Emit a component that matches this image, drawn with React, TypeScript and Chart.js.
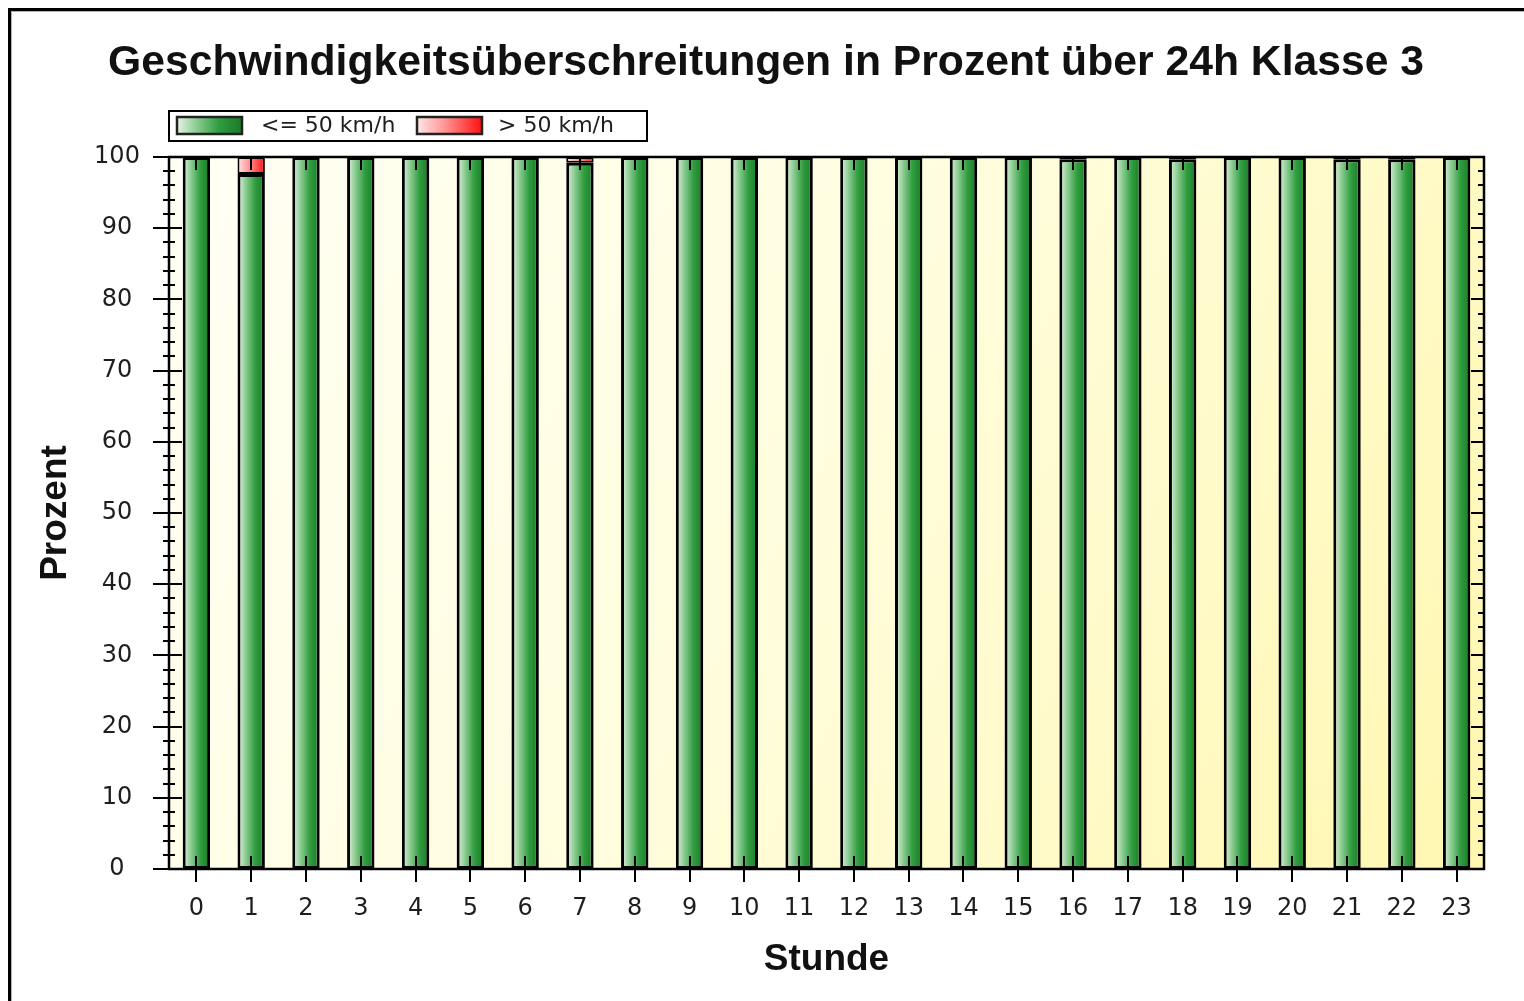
import React, { useEffect, useRef } from "react";
import { Chart, registerables } from "chart.js";

Chart.register(...registerables);

const hours = ["0","1","2","3","4","5","6","7","8","9","10","11","12","13","14","15","16","17","18","19","20","21","22","23"];
const underLimit = [100, 97.6, 100, 100, 100, 100, 100, 99.2, 100, 100, 100, 100, 100, 100, 100, 100, 99.7, 100, 99.7, 100, 100, 99.7, 99.7, 100];
const overLimit = [0, 2.4, 0, 0, 0, 0, 0, 0.8, 0, 0, 0, 0, 0, 0, 0, 0, 0.3, 0, 0.3, 0, 0, 0.3, 0.3, 0];
const seriesNames = ["<= 50 km/h", "> 50 km/h"];
const yTicks = [0, 10, 20, 30, 40, 50, 60, 70, 80, 90, 100];
const titleText = "Geschwindigkeitsüberschreitungen in Prozent über 24h Klasse 3";
const xTitle = "Stunde";
const yTitle = "Prozent";

const greenStops: [number, string][] = [[0, "#e6f3e6"], [0.3, "#8ccc92"], [0.65, "#2f9c3e"], [1, "#1a7a28"]];
const redStops: [number, string][] = [[0, "#ffe6e6"], [0.4, "#ff9a9a"], [1, "#ff1010"]];

function barGradient(stops: [number, string][]) {
  return (c: any) => {
    const chart = c.chart;
    const { ctx, chartArea, scales } = chart;
    if (!chartArea || c.dataIndex === undefined || !scales.x) return stops[stops.length - 1][1];
    const x = scales.x.getPixelForValue(c.dataIndex);
    const w = (chartArea.width / hours.length) * 0.5;
    const g = ctx.createLinearGradient(x - w / 2, 0, x + w / 2, 0);
    stops.forEach(([p, col]) => g.addColorStop(p, col));
    return g;
  };
}

const LABEL_FONT = '24px "DejaVu Sans"';
const BOLD_FONT = 'bold 37px "Liberation Sans"';
const TITLE_FONT = 'bold 43px "Liberation Sans"';

const decor = {
  id: "decor",
  beforeDraw(chart: any) {
    const { ctx, chartArea: a, width, height } = chart;
    ctx.save();
    ctx.fillStyle = "#ffffff";
    ctx.fillRect(0, 0, width, height);
    // outer frame
    ctx.strokeStyle = "#000";
    ctx.lineWidth = 3;
    ctx.beginPath();
    ctx.moveTo(9.5, height + 5);
    ctx.lineTo(9.5, 9.5);
    ctx.lineTo(width + 5, 9.5);
    ctx.stroke();
    ctx.strokeStyle = "#b0b0b0";
    ctx.lineWidth = 1;
    ctx.beginPath();
    ctx.moveTo(11.5, height + 5);
    ctx.lineTo(11.5, 11.5);
    ctx.lineTo(width + 5, 11.5);
    ctx.stroke();
    // plot background
    const g = ctx.createLinearGradient(a.left, a.top, a.right, a.bottom);
    g.addColorStop(0, "#fffff4");
    g.addColorStop(0.5, "#fffddc");
    g.addColorStop(1, "#fff7b0");
    ctx.fillStyle = g;
    ctx.fillRect(a.left, a.top, a.right - a.left, a.bottom - a.top);
    ctx.restore();
  },
  afterDatasetsDraw(chart: any) {
    const { ctx, chartArea: a, scales } = chart;
    const xs = scales.x;
    const ys = scales.y;
    ctx.save();
    ctx.strokeStyle = "#000";
    ctx.lineWidth = 2.5;
    ctx.lineCap = "butt";
    // frame
    ctx.strokeRect(a.left, a.top, a.right - a.left, a.bottom - a.top);
    // y ticks
    ctx.lineWidth = 2;
    ctx.beginPath();
    for (let v = 0; v <= 100; v += 2) {
      const y = Math.round(ys.getPixelForValue(v));
      const major = v % 10 === 0;
      if (major) {
        ctx.moveTo(a.left - 16, y);
        ctx.lineTo(a.left + 13, y);
        ctx.moveTo(a.right - 13, y);
        ctx.lineTo(a.right, y);
      } else {
        ctx.moveTo(a.left - 6, y);
        ctx.lineTo(a.left + 6, y);
        ctx.moveTo(a.right - 6, y);
        ctx.lineTo(a.right, y);
      }
    }
    // x ticks
    hours.forEach((_, i) => {
      const x = Math.round(xs.getPixelForValue(i));
      ctx.moveTo(x, a.bottom - 13);
      ctx.lineTo(x, a.bottom + 13);
      ctx.moveTo(x, a.top);
      ctx.lineTo(x, a.top + 13);
    });
    ctx.stroke();

    // tick labels
    ctx.fillStyle = "#1e1e1e";
    ctx.font = LABEL_FONT;
    ctx.textAlign = "center";
    ctx.textBaseline = "middle";
    yTicks.forEach((v) => {
      ctx.fillText(String(v), 117, ys.getPixelForValue(v));
    });
    hours.forEach((h, i) => {
      ctx.fillText(h, xs.getPixelForValue(i), 909);
    });

    // titles
    ctx.fillStyle = "#111";
    ctx.textBaseline = "alphabetic";
    ctx.font = TITLE_FONT;
    ctx.fillText(titleText, 766, 75, 1316);
    ctx.font = BOLD_FONT;
    ctx.fillText(xTitle, (a.left + a.right) / 2, 970);
    ctx.save();
    ctx.translate(66, (a.top + a.bottom) / 2);
    ctx.rotate(-Math.PI / 2);
    ctx.fillText(yTitle, 0, 0);
    ctx.restore();

    // legend
    ctx.lineWidth = 2;
    ctx.strokeStyle = "#000";
    ctx.strokeRect(169, 111, 478, 30);
    const items = [
      { x: 177, tx: 261, stops: greenStops, label: seriesNames[0] },
      { x: 417, tx: 498, stops: redStops, label: seriesNames[1] },
    ];
    items.forEach((it) => {
      const g = ctx.createLinearGradient(it.x, 0, it.x + 65, 0);
      it.stops.forEach(([p, col]: [number, string]) => g.addColorStop(p, col));
      ctx.fillStyle = g;
      ctx.fillRect(it.x, 117, 65, 17);
      ctx.strokeStyle = "#222";
      ctx.lineWidth = 2.5;
      ctx.strokeRect(it.x, 117, 65, 17);
      ctx.fillStyle = "#1e1e1e";
      ctx.font = '22px "DejaVu Sans"';
      ctx.textAlign = "left";
      ctx.textBaseline = "middle";
      ctx.fillText(it.label, it.tx, 126);
    });
    ctx.restore();
  },
};

export default function App() {
  const ref = useRef<HTMLCanvasElement>(null);
  useEffect(() => {
    document.body.style.margin = "0";
    const canvas = ref.current!;
    const chart = new Chart(canvas, {
      type: "bar",
      data: {
        labels: hours,
        datasets: [
          {
            label: seriesNames[0],
            data: underLimit,
            backgroundColor: barGradient(greenStops) as any,
            borderColor: "#000",
            borderWidth: 3,
            borderSkipped: false,
          },
          {
            label: seriesNames[1],
            data: overLimit,
            backgroundColor: barGradient(redStops) as any,
            borderColor: "#000",
            borderWidth: 2,
            borderSkipped: false,
          },
        ],
      },
      options: {
        responsive: false,
        devicePixelRatio: 1,
        animation: false,
        layout: { padding: { top: 157, right: 40, left: 0, bottom: 0 } },
        datasets: { bar: { categoryPercentage: 1, barPercentage: 0.5 } },
        plugins: {
          legend: { display: false },
          title: { display: false },
          tooltip: { enabled: false },
        },
        scales: {
          x: {
            stacked: true,
            grid: { display: false },
            border: { display: false },
            ticks: { display: false },
            afterFit: (s: any) => {
              s.height = 132;
            },
          },
          y: {
            stacked: true,
            min: 0,
            max: 100,
            grid: { display: false },
            border: { display: false },
            ticks: { display: false, stepSize: 10 },
            afterFit: (s: any) => {
              s.width = 169;
            },
          },
        },
      },
      plugins: [decor],
    });
    return () => chart.destroy();
  }, []);
  return (
    <div style={{ position: "absolute", left: 0, top: 0, width: 1524, height: 1001 }}>
      <canvas ref={ref} width={1524} height={1001} style={{ display: "block" }} />
    </div>
  );
}
